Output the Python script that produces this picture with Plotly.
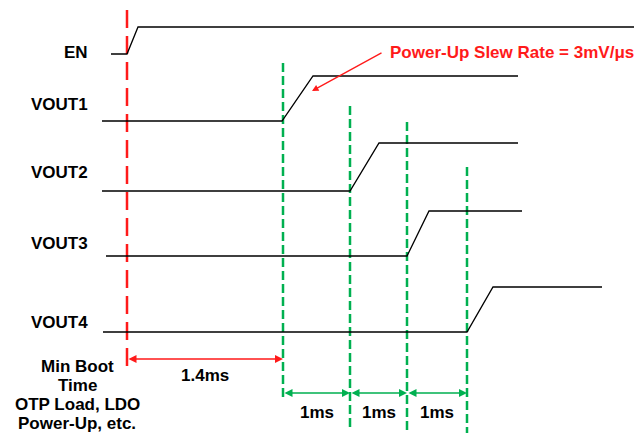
import plotly.graph_objects as go

# Schematic timing diagram (x: schematic time units, y: schematic level units, 0 at top)
signals = ["EN", "VOUT1", "VOUT2", "VOUT3", "VOUT4"]
t_low_start = [111, 102, 102, 106, 103]
t_rise_start = [127, 282, 350, 407, 467]
t_rise_end = [138, 313, 379, 429, 493]
t_high_end = [634, 518, 518, 522, 602]
level_low = [54, 121, 191, 256, 332]
level_high = [27, 76, 143, 211, 287]
label_level = [52, 104, 172, 243, 322]

# Event markers: EN edge (red) and the four sequencing points (green)
event_t = [127, 283, 350, 407, 467]
event_top = [10, 63, 106, 122, 167]
event_bottom = [373, 398, 427, 433, 433]

interval_labels = ["1.4ms", "1ms", "1ms", "1ms"]
interval_level = [359, 393, 393, 393]

note_text = "Power-Up Slew Rate = 3mV/μs"
boot_text = ["Min Boot", "Time", "OTP Load, LDO", "Power-Up, etc."]
boot_levels = [366, 385, 404, 423]

RED = "#ff1a1a"
GREEN = "#00b050"
FONT = "Liberation Sans, Arial, sans-serif"

fig = go.Figure()

# Event lines
for i, t in enumerate(event_t):
    fig.add_trace(go.Scatter(
        x=[t, t], y=[event_top[i], event_bottom[i]], mode="lines",
        line=dict(color=RED if i == 0 else GREEN, width=2.5,
                  dash="18px,8px" if i == 0 else "9px,4px"),
        hoverinfo="skip", showlegend=False))

# Waveforms
for i, s in enumerate(signals):
    fig.add_trace(go.Scatter(
        x=[t_low_start[i], t_rise_start[i], t_rise_end[i], t_high_end[i]],
        y=[level_low[i], level_low[i], level_high[i], level_high[i]],
        mode="lines", line=dict(color="black", width=1.3),
        name=s, hoverinfo="skip", showlegend=False))

annotations = []
bold = dict(family=FONT, size=17, color="black")

for i, s in enumerate(signals):
    annotations.append(dict(x=90, y=label_level[i], xref="x", yref="y", text="<b>%s</b>" % s,
                            showarrow=False, xanchor="right", yanchor="middle", font=bold))

for txt, lv in zip(boot_text, boot_levels):
    annotations.append(dict(x=77, y=lv, xref="x", yref="y", text="<b>%s</b>" % txt,
                            showarrow=False, xanchor="center", yanchor="middle", font=bold))

# Interval arrows and labels
for i, lab in enumerate(interval_labels):
    x0, x1 = event_t[i], event_t[i + 1]
    col = RED if i == 0 else GREEN
    annotations.append(dict(x=x1, y=interval_level[i], ax=x0, ay=interval_level[i],
                            xref="x", yref="y", axref="x", ayref="y", text="",
                            showarrow=True, arrowhead=2, arrowside="end+start",
                            arrowsize=1.0, arrowwidth=1.6, arrowcolor=col,
                            standoff=0, startstandoff=0))
    annotations.append(dict(x=(x0 + x1) / 2, y=interval_level[i] + (16 if i == 0 else 19),
                            xref="x", yref="y", text="<b>%s</b>" % lab, showarrow=False,
                            xanchor="center", yanchor="middle", font=bold))

# Slew-rate note
annotations.append(dict(x=388, y=52, xref="x", yref="y", text="<b>%s</b>" % note_text,
                        showarrow=False, xanchor="left", yanchor="middle",
                        font=dict(family=FONT, size=17, color=RED)))
annotations.append(dict(x=312, y=91, ax=383, ay=52, xref="x", yref="y", axref="x", ayref="y",
                        text="", showarrow=True, arrowhead=2, arrowsize=1.0, arrowwidth=1.3,
                        arrowcolor=RED, standoff=0))

fig.update_layout(
    width=634, height=433,
    margin=dict(l=0, r=0, t=0, b=0),
    paper_bgcolor="white", plot_bgcolor="white",
    xaxis=dict(range=[0, 634], visible=False, fixedrange=True),
    yaxis=dict(range=[433, 0], visible=False, fixedrange=True),
    annotations=annotations,
    showlegend=False,
)

fig.write_html("out.html", config={"displayModeBar": False},
               post_script="document.body.style.margin='0';document.body.style.overflow='hidden';")
